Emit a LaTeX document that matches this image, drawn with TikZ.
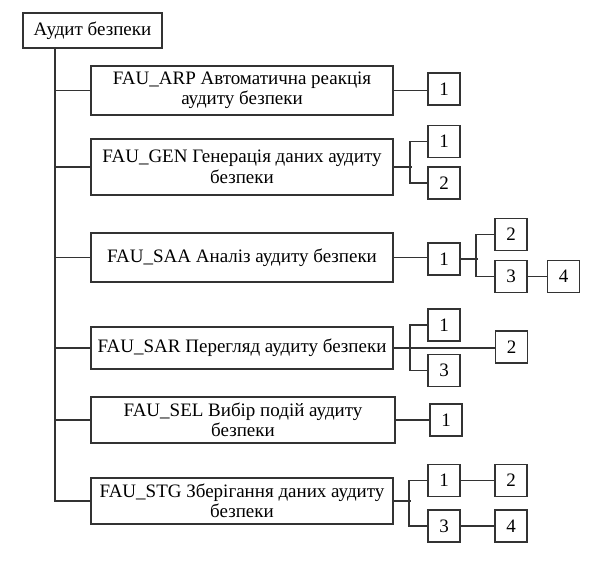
\documentclass[tikz,border=0pt]{standalone}
\usepackage{fontspec}
\setmainfont{Liberation Serif}
\usetikzlibrary{positioning}
\tikzset{
  mainbox/.style={draw=black!80,line width=1.6pt,minimum width=302pt,align=center,inner sep=1pt},
  numbox/.style={draw=black!80,line width=1.6pt,minimum width=32pt,minimum height=32pt,inner sep=0pt},
}
\begin{document}
\begin{tikzpicture}[x=1pt,y=-1pt,font=\fontsize{19}{20.5}\selectfont]
    \useasboundingbox (0,0) rectangle (607,572);
    \node[mainbox,minimum width=139pt,minimum height=35pt] (root) at (92.5, 30.5) {Аудит безпеки};
    \node[mainbox,minimum height=49pt] (arp) at (242, 90.5)
      {FAU\_ARP Автоматична реакція\\аудиту безпеки};
    \node[mainbox,minimum height=56pt] (gen) at (242, 167)
      {FAU\_GEN Генерація даних аудиту\\безпеки};
    \node[mainbox,minimum height=49pt] (saa) at (242, 257.5)
      {FAU\_SAA Аналіз аудиту безпеки};
    \node[mainbox,minimum height=42pt] (sar) at (242, 348)
      {FAU\_SAR Перегляд аудиту безпеки};
    \node[mainbox,minimum height=46pt,minimum width=304pt] (sel) at (243, 420)
      {FAU\_SEL Вибір подій аудиту\\безпеки};
    \node[mainbox,minimum height=46pt] (stg) at (242, 501)
      {FAU\_STG Зберігання даних аудиту\\безпеки};
    % numbered boxes
    \node[numbox] (arp1) at (444, 89) {1};
    \node[numbox] (gen1) at (444, 141.5) {1};
    \node[numbox] (gen2) at (444, 183) {2};
    \node[numbox] (saa1) at (444, 259) {1};
    \node[numbox] (saa2) at (511, 234.5) {2};
    \node[numbox] (saa3) at (511, 276.5) {3};
    \node[numbox] (saa4) at (563.5, 276.5) {4};
    \node[numbox] (sar1) at (444, 325) {1};
    \node[numbox] (sar2) at (511.5, 347) {2};
    \node[numbox] (sar3) at (444, 370.5) {3};
    \node[numbox] (sel1) at (446, 420) {1};
    \node[numbox] (stg1) at (444, 480.5) {1};
    \node[numbox] (stg2) at (511, 480.5) {2};
    \node[numbox] (stg3) at (444, 526) {3};
    \node[numbox] (stg4) at (511, 526) {4};
    % trunk
    \begin{scope}[draw=black!80,line width=1.6pt]
    \coordinate (trunk) at ([xshift=33pt]root.south west);
    \draw (trunk) |- (stg.west);
    \foreach \n in {arp,gen,saa,sar,sel}
      \draw (trunk |- \n.west) -- (\n.west);
    % right side
    \draw (arp.east) -- (arp.east -| arp1.west);
    \draw (gen.east) -- ++(18,0);
    \draw (gen1.west) -- ++(-17,0) |- (gen2.west);
    \draw (saa.east) -- (saa.east -| saa1.west);
    \draw (saa1.east) -- ++(17,0);
    \draw (saa2.west) -- ++(-18,0) |- (saa3.west);
    \draw (saa3.east) -- (saa4.west);
    \draw (sar.east) -- (sar.east -| sar2.west);
    \draw (sar1.west) -- ++(-17,0) |- (sar3.west);
    \draw (sel.east) -- (sel1.west);
    \draw (stg.east) -- ++(17,0);
    \draw (stg1.west) -- ++(-18,0) |- (stg3.west);
    \draw (stg1.east) -- (stg2.west);
    \draw (stg3.east) -- (stg4.west);
    \end{scope}
  \end{tikzpicture}
\end{document}
